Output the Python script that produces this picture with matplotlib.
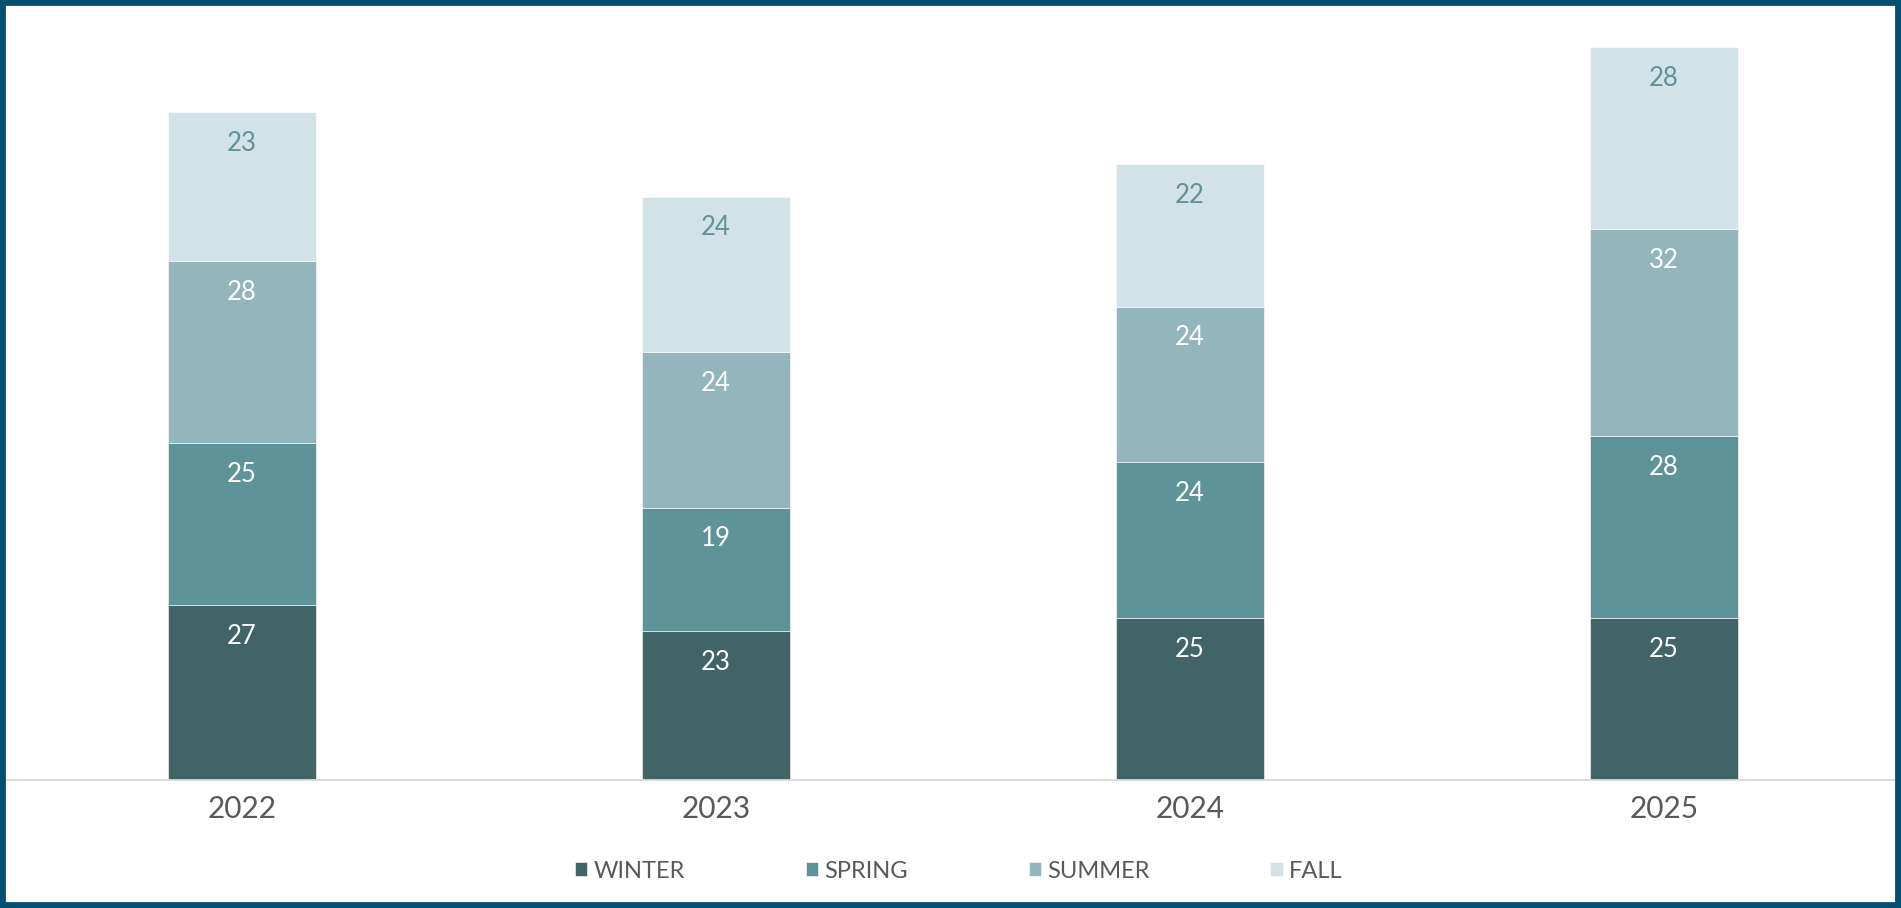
import matplotlib
matplotlib.use('Agg')
import matplotlib.pyplot as plt
from matplotlib.patches import Rectangle
import numpy as np

plt.rcParams['font.family'] = ['Lato', 'DejaVu Sans']

# Seasonal totals per year
years = ['2022', '2023', '2024', '2025']
seasons = ['WINTER', 'SPRING', 'SUMMER', 'FALL']
winter = [27, 23, 25, 25]
spring = [25, 19, 24, 28]
summer = [28, 24, 24, 32]
fall = [23, 24, 22, 28]

colors = ['#416466', '#5e9499', '#92b6bb', '#d3e2e6']
label_colors = ['white', 'white', 'white', '#5e9499']
text_gray = '#595959'

fig = plt.figure(figsize=(19.01, 9.08), dpi=100)
ax = fig.add_axes([5 / 1901, 128 / 908, 1 - 5 / 1901, 778 / 908])

x = np.arange(len(years))
bottom = np.zeros(len(years))
for name, vals, col, lcol in zip(seasons, [winter, spring, summer, fall], colors, label_colors):
    vals = np.array(vals, dtype=float)
    ax.bar(x, vals, width=0.312, bottom=bottom, color=col, label=name,
           edgecolor='white', linewidth=0.4)
    # value label just inside the top of each segment
    for xi, b, v in zip(x, bottom, vals):
        ax.annotate(f'{v:.0f}', xy=(xi, b + v), xytext=(0, -22.5),
                    textcoords='offset points', ha='center', va='center',
                    fontsize=18.5, color=lcol)
    bottom += vals

ax.set_xlim(-0.5, 3.5)
ax.set_ylim(0, 120)
ax.set_xticks(x)
ax.set_xticklabels(years, fontsize=21.5, color=text_gray)
ax.tick_params(axis='x', length=0, pad=10.8)
ax.set_yticks([])
for side in ['top', 'left', 'right']:
    ax.spines[side].set_visible(False)
ax.spines['bottom'].set_color('#d9d9d9')
ax.spines['bottom'].set_linewidth(1.3)

fig.legend(loc='center', bbox_to_anchor=(959 / 1901, 1 - 871 / 908), ncol=4,
           frameon=False, fontsize=17, handlelength=0.52, handleheight=0.52,
           handletextpad=0.28, columnspacing=5.1, labelcolor=text_gray)

# Frame around the whole figure
fig.patches.append(Rectangle((0, 0), 1, 1, transform=fig.transFigure, fill=False,
                             edgecolor='#034f71', linewidth=8.5, zorder=10))

fig.savefig('out.png', dpi=100)
